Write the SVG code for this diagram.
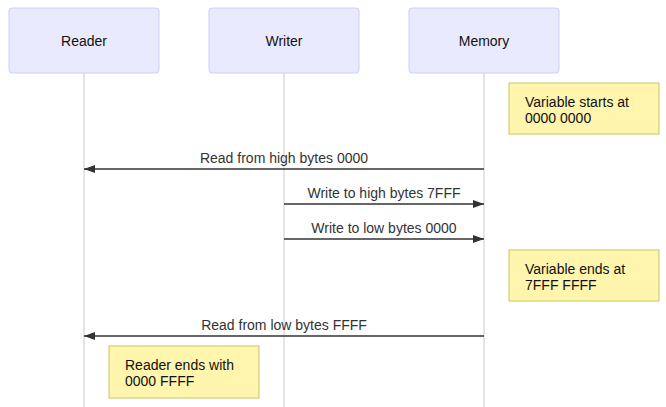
<svg xmlns="http://www.w3.org/2000/svg" width="666" height="407" viewBox="0 0 666 407">
<style>
.actor{fill:#eaeaff;stroke:#ccccff;stroke-width:1}
.life{stroke:#dddddd;stroke-width:1.5}
.msg{stroke:#333333;stroke-width:1.5;fill:none}
.note{fill:#fff5ad;stroke:#c8c866;stroke-width:1}
text{font-family:"Liberation Sans",Arial,sans-serif;font-size:14px;fill:#111}
.at{text-anchor:middle;dominant-baseline:central}
.ml{text-anchor:middle;fill:#333}
</style>
<defs>
<marker id="arr" viewBox="0 0 12 10" refX="11" refY="5" markerWidth="12" markerHeight="10" markerUnits="userSpaceOnUse" orient="auto">
<path d="M0,1 L11,5 L0,9 z" fill="#333"/>
</marker>
</defs>
<g id="lifelines">
<line class="life" x1="84" y1="73" x2="84" y2="407"/>
<line class="life" x1="284" y1="73" x2="284" y2="407"/>
<line class="life" x1="484" y1="73" x2="484" y2="407"/>
</g>
<g id="reader"><rect class="actor" x="9" y="8" width="150" height="65" rx="3"/><text class="at" x="84" y="41">Reader</text></g>
<g id="writer"><rect class="actor" x="209" y="8" width="150" height="65" rx="3"/><text class="at" x="284" y="41">Writer</text></g>
<g id="memory"><rect class="actor" x="409" y="8" width="150" height="65" rx="3"/><text class="at" x="484" y="41">Memory</text></g>
<g id="note1"><rect class="note" x="509" y="83" width="150" height="51"/><text x="525" y="107">Variable starts at</text><text x="525" y="123">0000 0000</text></g>
<g id="note2"><rect class="note" x="509" y="250" width="150" height="51"/><text x="525" y="274">Variable ends at</text><text x="525" y="290">7FFF FFFF</text></g>
<g id="note3"><rect class="note" x="109" y="346" width="150" height="52"/><text x="125" y="370">Reader ends with</text><text x="125" y="386">0000 FFFF</text></g>
<g id="connectors">
<line class="msg" x1="484" y1="169" x2="84" y2="169" marker-end="url(#arr)"/>
<text class="ml" x="284" y="163">Read from high bytes 0000</text>
<line class="msg" x1="284" y1="204" x2="484" y2="204" marker-end="url(#arr)"/>
<text class="ml" x="384" y="198">Write to high bytes 7FFF</text>
<line class="msg" x1="284" y1="239" x2="484" y2="239" marker-end="url(#arr)"/>
<text class="ml" x="384" y="233">Write to low bytes 0000</text>
<line class="msg" x1="484" y1="336" x2="84" y2="336" marker-end="url(#arr)"/>
<text class="ml" x="284" y="330">Read from low bytes FFFF</text>
</g>
</svg>
